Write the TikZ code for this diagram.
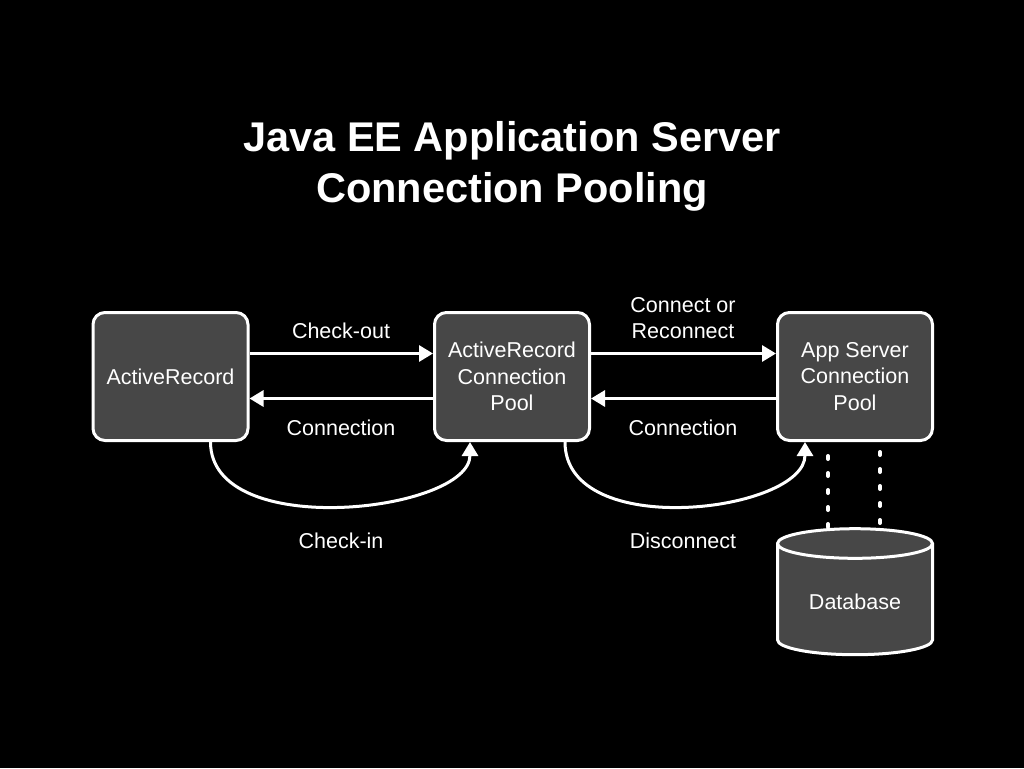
\documentclass[tikz,border=0pt]{standalone}
\usepackage{fontspec}
\setmainfont{Liberation Sans}
\usetikzlibrary{arrows.meta,shapes.geometric}
\begin{document}
\begin{tikzpicture}[x=1pt,y=-1pt,
  box/.style={draw=white,line width=3pt,fill=black!72,rounded corners=12pt,minimum width=155pt,minimum height=128pt,text=white,align=center,font=\fontsize{21.5}{26.5}\selectfont},
  lbl/.style={text=white,font=\fontsize{21.5}{26.5}\selectfont,align=center},
  conn/.style={draw=white,line width=3pt,-{Triangle[length=14pt,width=16pt]}}]
\fill[black] (0,0) rectangle (1024,768);
\node[text=white,font=\bfseries\fontsize{41.5}{51}\selectfont,align=center] (title) at (512,166) {Java EE Application Server\\Connection Pooling};
\node[box] (ar) at (170.5,376.5) {ActiveRecord};
\node[box] (arp) at (512,376.5) {ActiveRecord\\Connection\\Pool};
\node[box] (asp) at (855,376.5) {App Server\\Connection\\Pool};
\node[cylinder,shape border rotate=90,aspect=0.3,draw=white,line width=3pt,fill=black!72,minimum width=155pt,minimum height=126pt,text=white,font=\fontsize{21.5}{26.5}\selectfont] (db) at (855,602) {Database};
\draw[conn] ([yshift=23pt]ar.east) -- ([yshift=23pt]arp.west);
\draw[conn] ([yshift=-22pt]arp.west) -- ([yshift=-22pt]ar.east);
\draw[conn] ([yshift=23pt]arp.east) -- ([yshift=23pt]asp.west);
\draw[conn] ([yshift=-22pt]asp.west) -- ([yshift=-22pt]arp.east);
\draw[conn] ([xshift=40pt]ar.south) .. controls +(0,100) and +(0,70) .. ([xshift=-42pt]arp.south);
\draw[conn] ([xshift=53pt]arp.south) .. controls +(0,100) and +(0,70) .. ([xshift=-50pt]asp.south);
\node[lbl] (l1) at (341,331) {Check-out};
\node[lbl] (l2) at (341,428) {Connection};
\node[lbl] (l3) at (683,318) {Connect or\\Reconnect};
\node[lbl] (l4) at (683,428) {Connection};
\node[lbl] (l5) at (341,541) {Check-in};
\node[lbl] (l6) at (683,541) {Disconnect};
\coordinate (d1) at (828,456);
\coordinate (d2) at (880,452);
\draw[white,line width=4pt,line cap=round,dash pattern=on 3pt off 14pt] (d1) -- ++(0,72);
\draw[white,line width=4pt,line cap=round,dash pattern=on 3pt off 14pt] (d2) -- ++(0,76);
\end{tikzpicture}
\end{document}
